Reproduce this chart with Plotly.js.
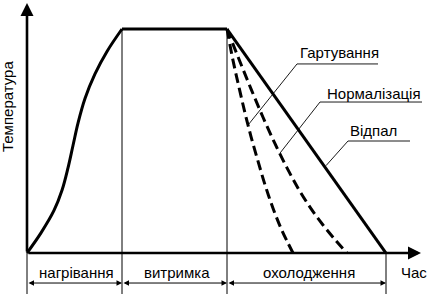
<!DOCTYPE html>
<html>
<head>
<meta charset="utf-8">
<script src="https://cdn.plot.ly/plotly-3.0.1.min.js"></script>
<style>html,body{margin:0;padding:0;background:#fff;}#chart{width:427px;height:294px;}</style>
</head>
<body>
<div id="chart"></div>
<script>
// Time in arbitrary units, temperature as % of the holding temperature
const heatTime = [0, 14, 27, 35, 41, 46, 51, 58, 68, 80, 95];
const heatTemp = [0, 9, 19, 28, 38, 48, 58, 69, 80, 90, 100];
const holdTime = [95, 200];
const holdTemp = [100, 100];
const annealTime = [200, 359];
const annealTemp = [100, 0];
const normTime = [200, 212, 224, 236, 248, 260, 272, 284, 296, 308, 320];
const normTemp = [100, 86.5, 73.3, 60.6, 48.8, 38, 28.2, 19.8, 12.5, 6, 0];
const hardTime = [200, 206, 212, 218, 224, 231, 238, 246, 255, 266];
const hardTemp = [100, 86, 74, 62.5, 52, 41, 30.5, 20, 10, 0];
const stageBounds = [0, 95, 200, 359];
const stageLabels = ['нагрівання', 'витримка', 'охолодження'];
const curveLabels = ['Гартування', 'Нормалізація', 'Відпал'];
const axisTitleX = 'Час';
const axisTitleY = 'Температура';

const FONT = {family: 'Liberation Sans, Arial, sans-serif', size: 15, color: '#000'};
const thick = {color: '#000', width: 3};
const dashed = {color: '#000', width: 3, dash: '10px,5px', shape: 'spline', smoothing: 1};

const traces = [
  {x: heatTime, y: heatTemp, mode: 'lines', line: Object.assign({shape: 'spline', smoothing: 1}, thick)},
  {x: holdTime, y: holdTemp, mode: 'lines', line: thick},
  {x: annealTime, y: annealTemp, mode: 'lines', line: thick},
  {x: normTime, y: normTemp, mode: 'lines', line: dashed},
  {x: hardTime, y: hardTemp, mode: 'lines', line: dashed}
];

const yBottom = -18.3, yTop = 112.95;
const thin = {color: '#000', width: 1};
const shapes = [];
// stage dividers
shapes.push({type: 'line', x0: stageBounds[0], x1: stageBounds[0], y0: 0, y1: yBottom, line: thin});
shapes.push({type: 'line', x0: stageBounds[1], x1: stageBounds[1], y0: holdTemp[0], y1: yBottom, line: thin});
shapes.push({type: 'line', x0: stageBounds[2], x1: stageBounds[2], y0: holdTemp[1], y1: yBottom, line: thin});
shapes.push({type: 'line', x0: stageBounds[3], x1: stageBounds[3], y0: 0, y1: yBottom, line: thin});

// leader lines and underlines for curve labels
const leaders = [
  {tx: 270, ty: 84.4, ex: 221, ey: 57.1, ux: 351},
  {tx: 293, ty: 67.4, ex: 253, ey: 44.6, ux: 395},
  {tx: 321, ty: 50.0, ex: 299, ey: 39.0, ux: 383}
];
const leadLine = {color: '#000', width: 0.9};
leaders.forEach(l => {
  shapes.push({type: 'line', x0: l.tx, y0: l.ty, x1: l.ex, y1: l.ey, line: leadLine});
  shapes.push({type: 'line', x0: l.tx, y0: l.ty, x1: l.ux, y1: l.ty, line: leadLine});
});

const annotations = [];
// axes with arrows
annotations.push({x: 0, y: 111.6, ax: 0, ay: 0, axref: 'x', ayref: 'y', xref: 'x', yref: 'y',
  text: '', showarrow: true, arrowhead: 2, arrowsize: 1, arrowwidth: 2.6, arrowcolor: '#000'});
annotations.push({x: 394, y: 0, ax: 0, ay: 0, axref: 'x', ayref: 'y', xref: 'x', yref: 'y',
  text: '', showarrow: true, arrowhead: 2, arrowsize: 1, arrowwidth: 2.6, arrowcolor: '#000'});
// dimension arrows
for (let i = 0; i < 3; i++) {
  annotations.push({x: stageBounds[i + 1], y: -13.4, ax: stageBounds[i], ay: -13.4, axref: 'x', ayref: 'y',
    xref: 'x', yref: 'y', text: '', showarrow: true, arrowside: 'end+start',
    arrowhead: 2, startarrowhead: 2, arrowsize: 1.1, startarrowsize: 1.1, arrowwidth: 1, arrowcolor: '#000'});
  annotations.push({x: (stageBounds[i] + stageBounds[i + 1]) / 2 + 2, y: -8.9, xref: 'x', yref: 'y',
    text: stageLabels[i], showarrow: false, font: FONT, xanchor: 'center', yanchor: 'middle'});
}
// curve labels
const labelPos = [[271, 89.3], [298, 71.4], [321, 54.9]];
curveLabels.forEach((t, i) => {
  annotations.push({x: labelPos[i][0], y: labelPos[i][1], xref: 'x', yref: 'y', text: t, showarrow: false,
    font: FONT, xanchor: 'left', yanchor: 'middle'});
});
// axis titles
annotations.push({x: 387, y: -8.5, xref: 'x', yref: 'y', text: axisTitleX, showarrow: false, font: FONT,
  xanchor: 'center', yanchor: 'middle'});
annotations.push({x: -20, y: 65.6, xref: 'x', yref: 'y', text: axisTitleY, showarrow: false, font: FONT,
  textangle: -90, xanchor: 'center', yanchor: 'middle'});

const layout = {
  width: 427, height: 294,
  margin: {l: 0, r: 0, t: 0, b: 0},
  paper_bgcolor: '#fff', plot_bgcolor: '#fff',
  showlegend: false,
  xaxis: {range: [-27, 400], visible: false, fixedrange: true},
  yaxis: {range: [yBottom, yTop], visible: false, fixedrange: true},
  shapes: shapes,
  annotations: annotations
};

Plotly.newPlot('chart', traces, layout, {staticPlot: true, displayModeBar: false});
</script>
</body>
</html>
